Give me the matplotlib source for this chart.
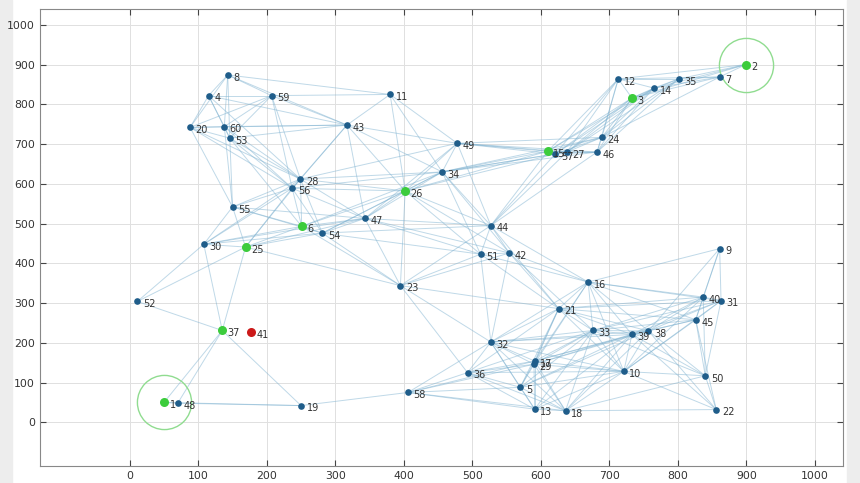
import numpy as np
import matplotlib.pyplot as plt
from matplotlib.collections import LineCollection
from matplotlib.patches import Rectangle

# node positions (node id = index + 1)
node_x = [50, 899, 733, 115, 570, 251, 861, 143, 861, 721,
          380, 713, 591, 765, 610, 669, 591, 636, 250, 88,
          626, 856, 395, 689, 169, 402, 638, 249, 590, 108,
          863, 527, 676, 456, 801, 493, 135, 757, 733, 837,
          177, 554, 317, 527, 826, 682, 343, 70, 478, 840,
          512, 11, 146, 281, 150, 237, 621, 406, 207, 138]
node_y = [50, 900, 816, 822, 88, 493, 869, 874, 437, 128,
          825, 864, 33, 841, 682, 353, 154, 29, 42, 742,
          286, 32, 344, 717, 441, 582, 680, 612, 146, 448,
          306, 202, 231, 630, 864, 125, 231, 230, 221, 315,
          226, 426, 748, 495, 258, 680, 513, 48, 702, 117,
          423, 304, 715, 476, 542, 589, 675, 75, 822, 744]

head_nodes = [1, 2, 3, 6, 15, 25, 26, 37]
dead_nodes = [41]
ringed_nodes = [1, 2]
comm_range = 250

x = np.array(node_x, dtype=float)
y = np.array(node_y, dtype=float)
n = len(x)

# links between live nodes within radio range
segs = []
for i in range(n):
    for j in range(i + 1, n):
        if (i + 1) in dead_nodes or (j + 1) in dead_nodes:
            continue
        if np.hypot(x[i] - x[j], y[i] - y[j]) <= comm_range:
            segs.append([(x[i], y[i]), (x[j], y[j])])

fig = plt.figure(figsize=(8.6, 4.83), dpi=100, facecolor='white')
fig.patches.append(Rectangle((0, 0), 12 / 860, 1, transform=fig.transFigure,
                             color='#ededed', zorder=-10))
fig.patches.append(Rectangle((847 / 860, 0), 13 / 860, 1, transform=fig.transFigure,
                             color='#ededed', zorder=-10))
ax = fig.add_axes([40 / 860, 1 - 466 / 483, 803 / 860, 457 / 483])

ax.add_collection(LineCollection(segs, colors=(0.5, 0.7, 0.82), alpha=0.5,
                                 linewidths=0.7, zorder=2))

for k in range(n):
    nid = k + 1
    if nid in dead_nodes:
        c, ms = '#cc1a1a', 6.5
    elif nid in head_nodes:
        c, ms = '#3ccc3c', 6.5
    else:
        c, ms = '#1f5d8a', 4.8
    ax.plot(x[k], y[k], 'o', color=c, markersize=ms, markeredgewidth=0, zorder=4)
    ax.annotate(str(nid), (x[k], y[k]), xytext=(4, -2), textcoords='offset points',
                fontsize=7, color='#333333', va='center', ha='left', zorder=5)

for nid in ringed_nodes:
    ax.plot(x[nid - 1], y[nid - 1], 'o', markersize=39, markerfacecolor='none',
            markeredgecolor='#90dc90', markeredgewidth=1.0, zorder=3)

ax.set_xlim(-131, 1041)
ax.set_ylim(-110, 1040)
ax.set_xticks(np.arange(0, 1001, 100))
ax.set_yticks(np.arange(0, 1001, 100))
ax.grid(True, color='#e0e0e0', linewidth=0.7)
ax.set_axisbelow(True)
ax.tick_params(direction='in', length=4, top=True, right=True, labelsize=7.8,
               colors='#444444', labelcolor='#333333')
for s in ax.spines.values():
    s.set_color('#888888')
    s.set_linewidth(0.8)

plt.savefig('out.png', dpi=100, facecolor=fig.get_facecolor())
